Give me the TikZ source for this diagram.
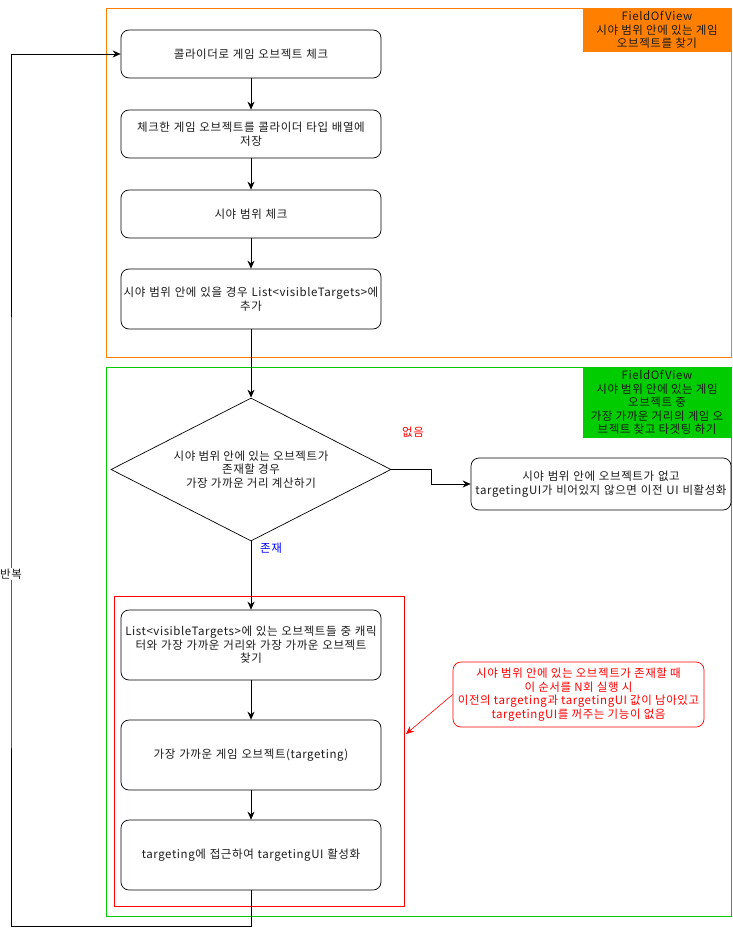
\documentclass[tikz,border=0pt]{standalone}
\usepackage{fontspec}
\setmainfont{Noto Sans CJK KR}[LetterSpace=5]
\usetikzlibrary{arrows.meta,shapes.geometric}
\definecolor{fovorange}{HTML}{FF8000}
\definecolor{fovgreen}{HTML}{00CC00}
\definecolor{txtgray}{HTML}{1A1A1A}
\tikzset{
  stepbox/.style={draw, line width=0.7pt, rounded corners=8pt, minimum width=260pt, minimum height=48pt,
    text width=256pt, align=center, text=txtgray, inner sep=2pt},
  tallbox/.style={stepbox, minimum height=70pt},
  flow/.style={-{Stealth[length=8pt,width=7pt]}, line width=0.8pt},
  tagbox/.style={align=center, text=txtgray, inner sep=0pt},
}
\begin{document}
\begin{tikzpicture}[x=1pt, y=-1pt, font=\fontsize{11.5}{13.5}\selectfont]
\useasboundingbox (0,0) rectangle (732,936);
% upper frame: collect objects in view
\draw[fovorange] (106,8) rectangle (731,357);
\fill[fovorange] (583,8) rectangle (731,52);
\node[tagbox] (tagtop) at (657,30) {FieldOfView\\시야 범위 안에 있는 게임\\오브젝트를 찾기};
% lower frame: pick nearest object and target it
\draw[fovgreen] (106,367) rectangle (731,916);
\fill[fovgreen] (583,367) rectangle (731,438);
\node[tagbox] (tagbot) at (657,402.5) {FieldOfView\\시야 범위 안에 있는 게임\\오브젝트 중\\가장 가까운 거리의 게임 오\\브젝트 찾고 타겟팅 하기};
\draw[red, line width=0.8pt] (114,596) rectangle (404,906);

\node[stepbox] (collide) at (251,54) {콜라이더로 게임 오브젝트 체크};
\node[stepbox] (store) at (251,134) {체크한 게임 오브젝트를 콜라이더 타입 배열에\\저장};
\node[stepbox] (range) at (251,214) {시야 범위 체크};
\node[stepbox, minimum height=60pt] (addlist) at (251,299) {시야 범위 안에 있을 경우 List<visibleTargets>에\\추가};

\node[draw, line width=0.7pt, diamond, aspect=1.96, minimum width=280pt, minimum height=143pt, inner sep=0pt,
  align=center, text=txtgray] (exists) at (251,469.5)
  {시야 범위 안에 있는 오브젝트가\\존재할 경우\\가장 가까운 거리 계산하기};
\node[stepbox, minimum height=52pt] (clearui) at (601,484)
  {시야 범위 안에 오브젝트가 없고\\\makebox[256pt]{targetingUI가 비어있지 않으면 이전 UI 비활성화}};

\node[tallbox] (nearest) at (251,645) {List<visibleTargets>에 있는 오브젝트들 중 캐릭\\터와 가장 가까운 거리와 가장 가까운 오브젝트\\찾기};
\node[tallbox] (target) at (251,755) {가장 가까운 게임 오브젝트(targeting)};
\node[tallbox] (activate) at (251,855) {targeting에 접근하여 targetingUI 활성화};

% red remark
\node[draw=red, line width=0.7pt, text=red, rounded corners=8pt, minimum width=251pt, minimum height=65pt,
  align=center, inner sep=2pt] (remark) at (578.5,694.5)
  {시야 범위 안에 있는 오브젝트가 존재할 때\\이 순서를 N회 실행 시\\이전의 targeting과 targetingUI 값이 남아있고\\targetingUI를 꺼주는 기능이 없음};
\coordinate (redframe) at (406,734);
\draw[-{Stealth[length=8pt,width=7pt]}, red, line width=0.6pt] (remark.west) -- (redframe);

\draw[flow] (collide) -- (store);
\draw[flow] (store) -- (range);
\draw[flow] (range) -- (addlist);
\draw[flow] (addlist) -- (exists);
\draw[flow] (exists.east) -- ++(40,0) |- (clearui.west);
\draw[flow] (exists) -- (nearest);
\draw[flow] (nearest) -- (target);
\draw[flow] (target) -- (activate);
\draw[flow] (activate.south) -- ++(0,36) -| (11,574) |- (collide.west);

\node[text=red] (nonelbl) at (413,432) {없음};
\node[text=blue] (yeslbl) at (271,548) {존재};
\node[fill=white, inner sep=1pt, text=txtgray] (looplbl) at (11,574) {반복};
\end{tikzpicture}
\end{document}
